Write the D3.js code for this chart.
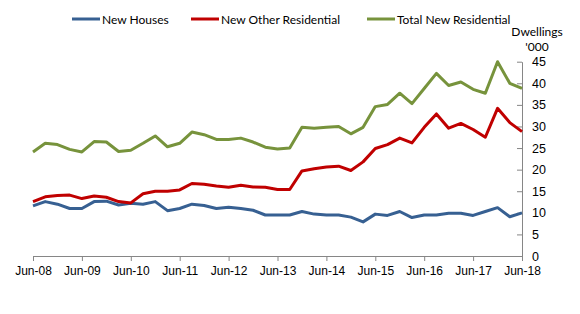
<!DOCTYPE html>
<html>
<head>
<meta charset="utf-8">
<script src="https://cdn.jsdelivr.net/npm/d3@7"></script>
<style>
  body { margin: 0; background: #fff; }
  svg { font-family: Lato, "Open Sans", sans-serif; }
</style>
</head>
<body>
<svg width="580" height="314"></svg>
<script>
// quarterly, Jun-08 .. Jun-18
var quarters = d3.range(41);
var tickLabels = ["Jun-08", "Jun-09", "Jun-10", "Jun-11", "Jun-12", "Jun-13",
                  "Jun-14", "Jun-15", "Jun-16", "Jun-17", "Jun-18"];

var newHouses = [11.6, 12.6, 12.0, 11.0, 11.0, 12.6, 12.7, 11.8, 12.2, 12.0,
                 12.6, 10.5, 11.0, 12.0, 11.7, 11.0, 11.3, 11.0, 10.6, 9.5,
                 9.5, 9.5, 10.3, 9.7, 9.5, 9.5, 9.0, 7.9, 9.7, 9.4,
                 10.3, 8.9, 9.5, 9.5, 9.9, 9.9, 9.4, 10.3, 11.2, 9.1, 10.0];
var newOther = [12.6, 13.7, 14.0, 14.1, 13.3, 13.9, 13.6, 12.6, 12.3, 14.4,
                15.0, 15.0, 15.3, 16.8, 16.6, 16.2, 15.9, 16.4, 16.0, 15.9,
                15.4, 15.4, 19.7, 20.2, 20.6, 20.8, 19.8, 21.8, 24.9, 25.8,
                27.3, 26.2, 29.8, 32.9, 29.6, 30.7, 29.3, 27.5, 34.2, 30.9, 28.8];
var totalNew = [24.1, 26.1, 25.8, 24.7, 24.1, 26.5, 26.4, 24.2, 24.5, 26.1,
                27.8, 25.3, 26.1, 28.7, 28.1, 27.0, 27.0, 27.3, 26.4, 25.2,
                24.8, 25.0, 29.8, 29.6, 29.8, 30.0, 28.3, 29.8, 34.6, 35.1,
                37.7, 35.3, 38.8, 42.3, 39.5, 40.3, 38.6, 37.7, 45.0, 40.0, 38.8];

var yTicks = [0, 5, 10, 15, 20, 25, 30, 35, 40, 45];

var series = [
  {name: "New Houses", values: newHouses, color: "#376092"},
  {name: "New Other Residential", values: newOther, color: "#C00000"},
  {name: "Total New Residential", values: totalNew, color: "#77933C"}
];

var svg = d3.select("svg");
var plotLeft = 33, plotRight = 522, plotTop = 61.7, plotBottom = 256;

var x = d3.scaleLinear().domain([0, 40]).range([plotLeft, plotRight]);
var y = d3.scaleLinear().domain([0, 45]).range([plotBottom, plotTop]);

// x axis (ticks every 4 quarters)
var xAxis = svg.append("g")
    .attr("transform", "translate(0," + plotBottom + ")")
    .call(d3.axisBottom(x)
        .tickValues(d3.range(0, 41, 4))
        .tickSize(5)
        .tickSizeOuter(0)
        .tickFormat(function(d, i) { return tickLabels[i]; }));
xAxis.select(".domain").attr("stroke", "#868686");
xAxis.selectAll(".tick line").attr("stroke", "#868686");
xAxis.selectAll("text").attr("font-size", "12px").attr("fill", "#000").attr("dy", "0.95em");

// y axis on the right
var yAxis = svg.append("g")
    .attr("transform", "translate(" + plotRight + ",0)")
    .call(d3.axisRight(y)
        .tickValues(yTicks)
        .tickSize(0)
        .tickPadding(10));
yAxis.select(".domain").attr("stroke", "#868686");
yAxis.selectAll(".tick").append("line")
    .attr("x1", -5).attr("x2", 0)
    .attr("stroke", "#868686");
yAxis.selectAll("text").attr("font-size", "12.5px").attr("fill", "#000");

// unit label above the axis
svg.append("text").attr("x", 537).attr("y", 36)
    .attr("text-anchor", "middle").attr("font-size", "12px").text("Dwellings");
svg.append("text").attr("x", 537).attr("y", 51)
    .attr("text-anchor", "middle").attr("font-size", "12px").text("'000");

var line = d3.line()
    .x(function(d, i) { return x(quarters[i]); })
    .y(function(d) { return y(d); });

series.forEach(function(s) {
  svg.append("path")
      .datum(s.values)
      .attr("fill", "none")
      .attr("stroke", s.color)
      .attr("stroke-width", 3)
      .attr("stroke-linejoin", "round")
      .attr("d", line);
});

// legend
var legendX = [72, 191, 367];
series.forEach(function(s, i) {
  var g = svg.append("g").attr("transform", "translate(" + legendX[i] + ",19)");
  g.append("line").attr("x1", 0).attr("x2", 28).attr("y1", 0).attr("y2", 0)
      .attr("stroke", s.color).attr("stroke-width", 3);
  g.append("text").attr("x", 30).attr("y", 4.5).attr("font-size", "12px").text(s.name);
});
</script>
</body>
</html>
